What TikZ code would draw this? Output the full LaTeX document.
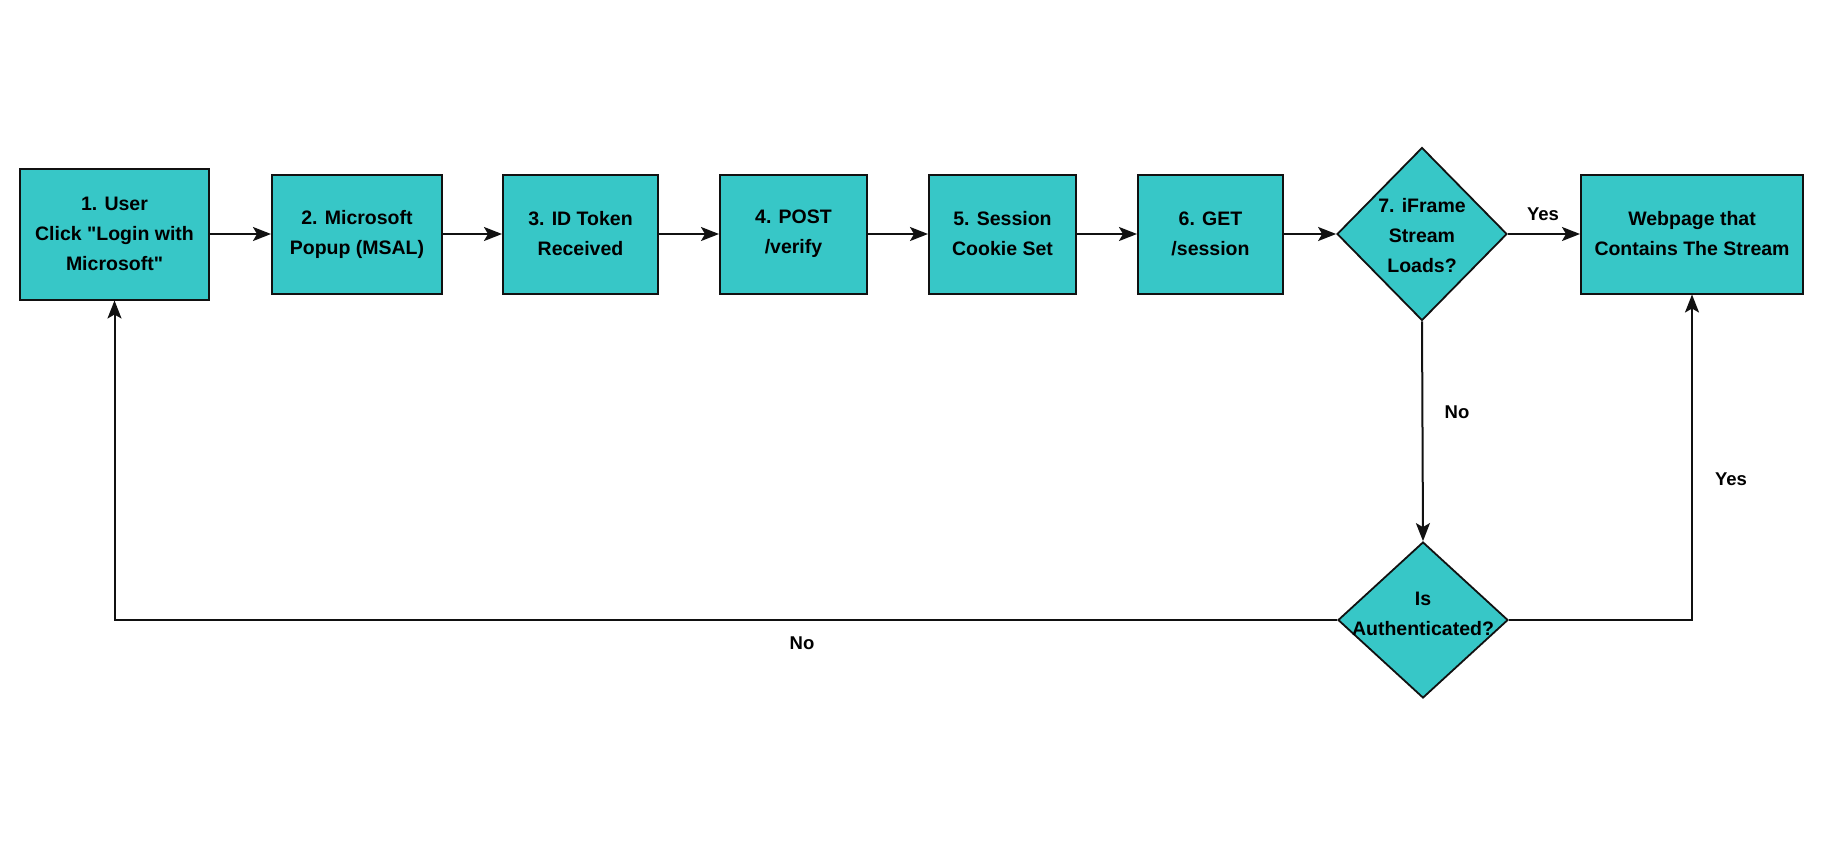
\documentclass[tikz,border=0pt]{standalone}
\usepackage{fontspec}
\setmainfont{Liberation Sans}[Ligatures=TeXOff]
\usetikzlibrary{shapes.geometric,arrows.meta}
\definecolor{teal1}{HTML}{37C7C7}
\definecolor{edge1}{HTML}{111111}
\tikzset{
  x=1pt,y=-1pt,
  stepbox/.style={draw=edge1,line width=2pt,fill=teal1,inner sep=0pt,align=center,
    font=\fontsize{19.5}{30}\selectfont\bfseries,minimum height=119pt},
  dia/.style={draw=edge1,line width=1.8pt,fill=teal1,shape=diamond,inner sep=0pt,
    minimum width=170pt},
  txt/.style={align=center,font=\fontsize{19.5}{30}\selectfont\bfseries,inner sep=0pt},
  lbl/.style={font=\fontsize{18.5}{22}\selectfont\bfseries,inner sep=0pt},
  conn/.style={draw=edge1,line width=2pt,-{Stealth[length=18pt,width=14pt,inset=4pt]}},
}
\begin{document}
\begin{tikzpicture}
\useasboundingbox[fill=white] (0,0) rectangle (1828,860);
\node[stepbox,minimum width=189pt,minimum height=131pt] (b1) at (114.5,234) {1. User\\Click "Login with\\Microsoft"};
\node[stepbox,minimum width=170pt] (b2) at (357,234) {2. Microsoft\\Popup (MSAL)};
\node[stepbox,minimum width=155pt] (b3) at (580.5,234) {3. ID Token\\Received};
\node[stepbox,minimum width=147pt] (b4) at (793.5,234) {4. POST\\/verify};
\node[stepbox,minimum width=147pt] (b5) at (1002.5,234) {5. Session\\Cookie Set};
\node[stepbox,minimum width=145pt] (b6) at (1210.5,234) {6. GET\\/session};
\node[dia,minimum height=173pt] (d1) at (1422,234) {};
\node[txt] (t1) at (1422,236) {7. iFrame\\Stream\\Loads?};
\node[stepbox,minimum width=222pt] (web) at (1692,234) {Webpage that\\Contains The Stream};
\node[dia,minimum height=156pt] (d2) at (1423,620) {};
\node[txt] (t2) at (1423,614) {Is\\Authenticated?};

\draw[conn] (b1.east) -- (b2.west);
\draw[conn] (b2.east) -- (b3.west);
\draw[conn] (b3.east) -- (b4.west);
\draw[conn] (b4.east) -- (b5.west);
\draw[conn] (b5.east) -- (b6.west);
\draw[conn] (b6.east) -- (d1.west);
\draw[conn] (d1.east) -- (web.west);
\draw[conn] (d1.south) -- (d2.north);
\draw[conn] (d2.east) -| (web.south);
\draw[conn] (d2.west) -| (b1.south);

\node[lbl] (l1) at (1543,214) {Yes};
\node[lbl] (l2) at (1457,412) {No};
\node[lbl] (l3) at (1731,479) {Yes};
\node[lbl] (l4) at (802,643) {No};
\end{tikzpicture}
\end{document}
